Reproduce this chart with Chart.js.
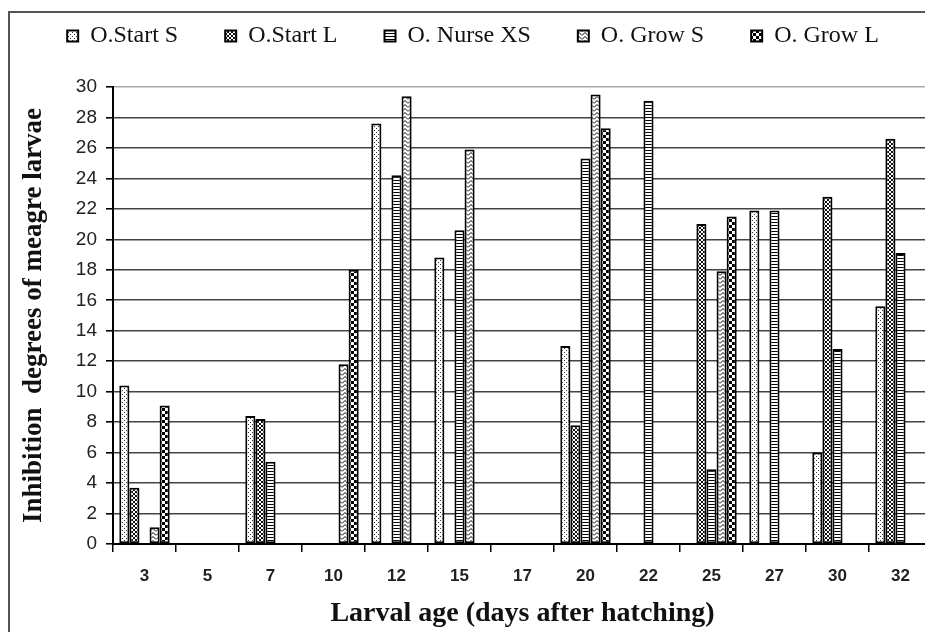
<!DOCTYPE html>
<html><head><meta charset="utf-8">
<script src="https://cdn.jsdelivr.net/npm/chart.js@4.4.1/dist/chart.umd.min.js"></script>
<style>
html,body{margin:0;padding:0;overflow:hidden;background:#fff;width:925px;height:632px}
#frame{position:absolute;left:8px;top:11px;width:2000px;height:2000px;border-left:2px solid #555;border-top:2px solid #555;}
#wrap{position:absolute;left:0;top:0;width:950px;height:632px}
</style></head><body>
<div id="frame"></div>
<div id="wrap"><canvas id="c" width="950" height="632"></canvas></div>
<script>
const categories = ['3','5','7','10','12','15','17','20','22','25','27','30','32'];
const seriesNames = ['O.Start S','O.Start L','O. Nurse XS','O. Grow S','O. Grow L'];
const startS  = [10.4, null, 8.4, null, 27.6, 18.8, null, 13.0, null, null, 21.9, 6.0, 15.6];
const startL  = [3.7, null, 8.2, null, null, null, null, 7.8, null, 21.0, null, 22.8, 26.6];
const nurseXS = [null, null, 5.4, null, 24.2, 20.6, null, 25.3, 29.1, 4.9, 21.9, 12.8, 19.1];
const growS   = [1.1, null, null, 11.8, 29.4, 25.9, null, 29.5, null, 17.9, null, null, null];
const growL   = [9.1, null, null, 18.0, null, null, null, 27.3, null, 21.5, null, null, null];
const yTicksMax = 30, yTickStep = 2;
const xTitle = 'Larval age (days after hatching)';
const yTitle = 'Inhibition  degrees of meagre larvae';

const canvas = document.getElementById('c');
const ctx = canvas.getContext('2d');
function makePattern(w, h, draw){
  const t = document.createElement('canvas'); t.width = w; t.height = h;
  const g = t.getContext('2d'); g.fillStyle = '#fff'; g.fillRect(0,0,w,h);
  draw(g); return ctx.createPattern(t, 'repeat');
}
const patDots = makePattern(4,4,g=>{ g.fillStyle='#333'; g.fillRect(0,0,1,1); g.fillRect(2,2,1,1); });
const patCross = makePattern(4,4,g=>{ g.fillStyle='#111';
  [[0,0],[1,1],[2,2],[3,3],[0,3],[1,2],[2,1],[3,0]].forEach(p=>g.fillRect(p[0],p[1],1,1)); });
const patHoriz = makePattern(4,3,g=>{ g.fillStyle='#000'; g.fillRect(0,0,4,1); });
const patZig = makePattern(6,4,g=>{ g.strokeStyle='#000'; g.lineWidth=1; g.beginPath();
  g.moveTo(0,3.5); g.lineTo(3,0.5); g.lineTo(6,3.5); g.stroke(); });
const patCheck = makePattern(6,6,g=>{ g.fillStyle='#000'; g.fillRect(0,0,3,3); g.fillRect(3,3,3,3); });

const fills = [patDots, patCross, patHoriz, patZig, patCheck];
const values = [startS, startL, nurseXS, growS, growL];

const legendSpacer = {
  id: 'legendSpacer',
  beforeInit(chart){
    const orig = chart.legend.fit;
    chart.legend.fit = function(){ this.maxWidth += 300; orig.call(this); this.height += 29; };
  }
};

new Chart(ctx, {
  type: 'bar',
  data: {
    labels: categories,
    datasets: seriesNames.map((n,i)=>({ label: n, data: values[i], backgroundColor: fills[i] }))
  },
  options: {
    responsive: false, animation: false, devicePixelRatio: 1,
    layout: { padding: { left: 14, right: 18, top: -23, bottom: 0 } },
    datasets: { bar: { categoryPercentage: 0.8, barPercentage: 1.0, borderColor: '#000', borderWidth: 2, borderSkipped: false } },
    plugins: {
      legend: { position: 'top', labels: { font: { family: '"Liberation Serif", serif', size: 24 }, color: '#111', boxWidth: 11, boxHeight: 11, padding: 47 } },
      tooltip: { enabled: false }
    },
    scales: {
      x: {
        grid: { offset: true, drawOnChartArea: false, drawTicks: true, tickLength: 8, color: '#000', lineWidth: 1.5 },
        border: { display: true, color: '#000', width: 2 },
        ticks: { font: { family: '"Liberation Sans Narrow", "Liberation Sans", sans-serif', weight: 'bold', size: 17 }, color: '#222', padding: 14, maxRotation: 0, autoSkip: false },
        title: { display: true, text: xTitle, font: { family: '"Liberation Serif", serif', size: 28, weight: 'bold' }, color: '#111', padding: { top: 0, bottom: 1 } },
        afterFit(s){ s.height = 88; }
      },
      y: {
        min: 0, max: yTicksMax,
        ticks: { stepSize: yTickStep, autoSkip: false, font: { family: '"Liberation Sans", sans-serif', size: 19 }, color: '#222', padding: 9 },
        grid: { color: c => (c.tick && c.tick.value === yTicksMax) ? '#aaa' : '#444', lineWidth: 1.6, tickColor: '#000', tickLength: 7 },
        border: { color: '#000', width: 2 },
        title: { display: true, text: yTitle, font: { family: '"Liberation Serif", serif', size: 27, weight: 'bold' }, color: '#111', padding: { top: 4, bottom: 0 } },
        afterFit(s){ s.width = 99; }
      }
    }
  },
  plugins: [legendSpacer]
});
</script>
</body></html>
